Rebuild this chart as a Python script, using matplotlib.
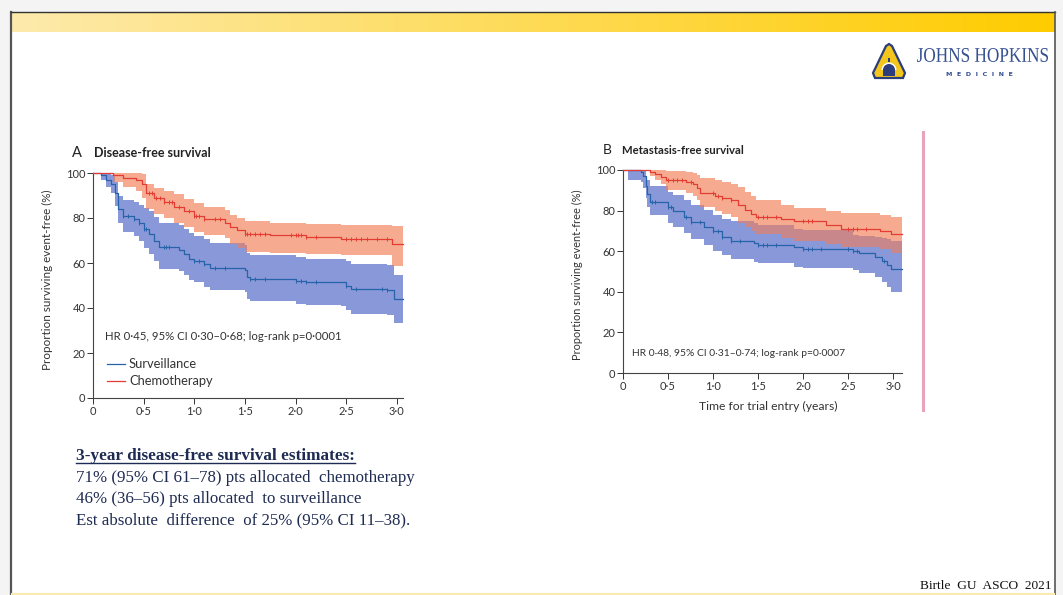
import numpy as np
import matplotlib
matplotlib.use('Agg')
import matplotlib.pyplot as plt
from matplotlib.patches import Rectangle, Polygon, PathPatch, Wedge
from matplotlib.textpath import TextPath
from matplotlib.font_manager import FontProperties
from matplotlib.transforms import Affine2D

# ---------------- data ----------------
x_ticks = [0, 0.5, 1.0, 1.5, 2.0, 2.5, 3.0]
x_tick_labels = ['0', '0·5', '1·0', '1·5', '2·0', '2·5', '3·0']
y_ticks = [0, 20, 40, 60, 80, 100]

# Panel A - Disease-free survival
a_chemo_t = [0, 0.2, 0.3, 0.42, 0.48, 0.52, 0.6, 0.7, 0.8, 0.9, 1.0, 1.1, 1.3, 1.35, 1.42, 1.5, 1.75, 2.1, 2.45, 2.95, 3.06]
a_chemo_s = [100, 99, 98, 97, 95, 91, 89, 87, 85, 83, 81, 79.5, 78, 76, 74.5, 73, 72.5, 71.5, 70.5, 68.5, 68.5]
a_chemo_up = [100, 100, 100, 100, 99.5, 95, 93.5, 92, 90.5, 88.5, 86.5, 85, 83.5, 81.5, 80, 78.5, 78, 77.5, 77, 76.5, 76.5]
a_chemo_lo = [100, 96, 94, 92, 89, 84, 82, 80, 78, 76, 74, 72.5, 71, 68.5, 66.5, 65, 64.5, 64, 63.5, 58.5, 58.5]
a_chemo_cens = [0.55, 0.58, 0.62, 0.66, 0.7, 0.75, 0.78, 0.85, 0.95, 1.0, 1.02, 1.05, 1.1, 1.2, 1.25,
                1.5, 1.52, 1.55, 1.6, 1.65, 1.7, 1.95, 2.0, 2.02, 2.05, 2.1, 2.2,
                2.5, 2.55, 2.6, 2.65, 2.7, 2.8, 2.9]

a_surv_t = [0, 0.08, 0.13, 0.18, 0.22, 0.25, 0.3, 0.4, 0.45, 0.5, 0.55, 0.6, 0.65, 0.85, 0.9, 0.95, 1.0, 1.1, 1.15,
            1.5, 1.52, 1.55, 2.0, 2.1, 2.45, 2.5, 2.55, 2.9, 2.97, 3.06]
a_surv_s = [100, 99, 97, 95, 91, 84, 81, 79.5, 78, 75, 73, 70, 67, 66, 64, 62, 61, 59.5, 58,
            57, 54, 53, 52, 51.5, 51.5, 50, 48.5, 48, 44, 44]
a_surv_up = [100, 100, 99.5, 99, 96, 90, 88, 87, 86, 84.5, 83, 80.5, 78, 77, 75, 73.5, 72, 70.5, 69,
             68, 64.5, 63.5, 62.5, 62, 62, 61, 59.5, 59, 54.5, 54.5]
a_surv_lo = [100, 97, 94, 91, 85.5, 78, 74, 72, 70, 66.5, 64, 61, 57.5, 56.5, 54.5, 52.5, 51.5, 49.5, 48,
             47, 44, 43, 42, 41.5, 41, 39, 37.5, 37, 33.5, 33.5]
a_surv_cens = [0.3, 0.35, 0.4, 0.45, 0.5, 0.52, 0.7, 0.72, 0.75, 1.0, 1.05, 1.1, 1.2, 1.3,
               1.55, 1.6, 1.7, 2.0, 2.05, 2.1, 2.2, 2.5, 2.6, 2.85, 2.9]

# Panel B - Metastasis-free survival
b_chemo_t = [0, 0.3, 0.35, 0.42, 0.48, 0.7, 0.78, 0.82, 0.86, 1.02, 1.1, 1.2, 1.28, 1.35, 1.42, 1.48,
             1.75, 1.9, 2.25, 2.42, 2.85, 2.98, 3.1]
b_chemo_s = [100, 99, 98, 96.5, 95, 94, 93, 91, 88.5, 87, 86, 85, 83, 80.5, 78.5, 77, 76, 75, 73, 71, 70, 68.5, 68.5]
b_chemo_up = [100, 100, 100, 100, 99.5, 99, 98.5, 97.5, 96, 95, 94, 93, 91.5, 89, 87, 85, 83, 81.5, 80, 79, 78, 77, 77]
b_chemo_lo = [100, 97, 95, 93, 90, 88.5, 87, 85, 82, 80, 78.5, 77, 74, 72, 70, 68.5, 66.5, 65, 63.5, 62, 61, 59, 59]
b_chemo_cens = [0.5, 0.55, 0.6, 0.65, 0.75, 1.0, 1.05, 1.1, 1.2, 1.5, 1.55, 1.6, 1.7,
                2.0, 2.05, 2.1, 2.5, 2.55, 2.6, 2.7]

b_surv_t = [0, 0.05, 0.2, 0.22, 0.25, 0.27, 0.3, 0.5, 0.55, 0.68, 0.75, 0.9, 1.0, 1.1, 1.2, 1.45, 1.5,
            1.9, 2.0, 2.55, 2.62, 2.8, 2.88, 2.93, 2.98, 3.1]
b_surv_s = [100, 100, 99, 97, 92, 88, 84, 82, 80, 77, 74.5, 72, 70, 67, 65, 64, 63, 62, 61, 60, 59, 57, 55, 53, 51, 51]
b_surv_up = [100, 100, 100, 99.5, 97, 95, 92, 89, 87.5, 85, 83, 80.5, 78, 76, 75, 74, 73,
             71, 70.5, 68, 67.5, 67, 66.5, 66, 65, 65]
b_surv_lo = [100, 95, 94, 91, 86, 82, 78, 74, 72, 69, 66, 63, 60, 58, 56, 54.5, 54, 52, 51.5, 50.5,
             49.5, 47.5, 45, 42.5, 40, 40]
b_surv_cens = [0.32, 0.36, 0.5, 0.53, 0.7, 0.75, 0.85, 1.0, 1.05, 1.1, 1.2, 1.3, 1.5, 1.55, 1.6, 1.7,
               2.0, 2.05, 2.1, 2.2, 2.5, 2.55, 2.6, 2.9]

# ---------------- style ----------------
RED_LINE, RED_BAND = '#e23c33', '#f6ab90'
BLUE_LINE, BLUE_BAND = '#2763aa', '#8898d8'
OVERLAP = '#c8878a'
AX_FONT = 'Lato'
SERIF = 'Liberation Serif'
NAVY = '#1e2b52'
TXT = '#333333'

W, H = 1063, 595
fig = plt.figure(figsize=(W / 100, H / 100), dpi=100, facecolor='#f4f4f4')

bg = fig.add_axes([0, 0, 1, 1], zorder=0)
bg.add_patch(Rectangle((11, 12), 1044, 590, facecolor='white', edgecolor='none', zorder=0))
grad = np.linspace(0, 1, 256)
c0 = np.array([253, 234, 172]) / 255
c1 = np.array([255, 204, 0]) / 255
img = c0[None, :] * (1 - grad[:, None]) + c1[None, :] * grad[:, None]
bg.imshow(img[None, :, :], extent=(11, 1055, 32, 12), aspect='auto', interpolation='bilinear', zorder=2)
bg.plot([11, 11], [12, 595], color='#555555', lw=1.6, zorder=3)
bg.plot([11, 1055], [12, 12], color='#333333', lw=1.0, zorder=3)
bg.plot([1055, 1055], [12, 595], color='#555555', lw=1.2, zorder=3)
bg.plot([12, 1054], [593.5, 593.5], color='#fbe9b0', lw=1.5, zorder=3)
bg.plot([922.5, 922.5], [132, 410], color='#e9a3bd', lw=2.2, zorder=3)
bg.set_xlim(0, W)
bg.set_ylim(H, 0)
bg.axis('off')


def step_eval(t, v, grid):
    idx = np.searchsorted(np.asarray(t), grid, side='right') - 1
    return np.asarray(v, dtype=float)[np.clip(idx, 0, None)]


def km_panel(ax, red, blue, xmax):
    for (t, s, lo, up, cens, lc, bc) in (red, blue):
        ax.fill_between(t, lo, up, step='post', color=bc, lw=0, zorder=1)
    grid = np.union1d(red[0], blue[0])
    lo = np.maximum(step_eval(red[0], red[2], grid), step_eval(blue[0], blue[2], grid))
    hi = np.minimum(step_eval(red[0], red[3], grid), step_eval(blue[0], blue[3], grid))
    ax.fill_between(grid, lo, np.maximum(hi, lo), step='post', color=OVERLAP, lw=0, zorder=2)
    for (t, s, lo_, up_, cens, lc, bc) in (blue, red):
        ax.step(t, s, where='post', color=lc, lw=0.9, zorder=3, clip_on=False)
        ax.plot(cens, step_eval(t, s, cens), ls='none', marker='|', ms=3.5, mew=0.7,
                color=lc, zorder=4, clip_on=False)
    ax.set_xlim(0, xmax)
    ax.set_ylim(0, 100)
    ax.set_xticks(x_ticks)
    ax.set_xticklabels(x_tick_labels, fontfamily=AX_FONT)
    ax.set_yticks(y_ticks)
    ax.set_yticklabels([str(v) for v in y_ticks], fontfamily=AX_FONT)
    for sp in ('top', 'right'):
        ax.spines[sp].set_visible(False)
    for sp in ('left', 'bottom'):
        ax.spines[sp].set_color('#444444')
        ax.spines[sp].set_linewidth(0.8)
    ax.tick_params(length=4, width=0.7, colors=TXT, labelsize=8, pad=1.5)
    ax.set_facecolor('none')


def px_axes(left, right, top, bottom):
    return fig.add_axes([left / W, 1 - bottom / H, (right - left) / W, (bottom - top) / H], zorder=2)


axA = px_axes(93, 403, 173, 398)
km_panel(axA,
         (a_chemo_t, a_chemo_s, a_chemo_lo, a_chemo_up, a_chemo_cens, RED_LINE, RED_BAND),
         (a_surv_t, a_surv_s, a_surv_lo, a_surv_up, a_surv_cens, BLUE_LINE, BLUE_BAND), 3.06)

axB = px_axes(623, 902, 170, 373)
km_panel(axB,
         (b_chemo_t, b_chemo_s, b_chemo_lo, b_chemo_up, b_chemo_cens, RED_LINE, RED_BAND),
         (b_surv_t, b_surv_s, b_surv_lo, b_surv_up, b_surv_cens, BLUE_LINE, BLUE_BAND), 3.1)

top = fig.add_axes([0, 0, 1, 1], zorder=5)
top.set_xlim(0, W)
top.set_ylim(H, 0)
top.axis('off')
top.patch.set_alpha(0)

# panel texts
top.text(72, 153, 'A', fontsize=10.5, fontfamily=AX_FONT, va='center', color='#222222')
top.text(94, 153, 'Disease-free survival', fontsize=9, fontweight='bold', fontfamily=AX_FONT,
         va='center', color='#222222')
top.text(47, 280, 'Proportion surviving event-free (%)', rotation=90, fontsize=8.4, fontfamily=AX_FONT,
         ha='center', va='center', color=TXT)
top.text(105, 337, 'HR 0·45, 95% CI 0·30–0·68; log-rank p=0·0001', fontsize=8.2, fontfamily=AX_FONT,
         va='center', color=TXT)
top.plot([107, 125], [364, 364], color=BLUE_LINE, lw=0.9)
top.plot([107, 125], [381, 381], color=RED_LINE, lw=0.9)
top.text(129, 364, 'Surveillance', fontsize=9.3, fontfamily=AX_FONT, va='center', color=TXT)
top.text(129, 381, 'Chemotherapy', fontsize=9.3, fontfamily=AX_FONT, va='center', color=TXT)

top.text(603, 150, 'B', fontsize=10, fontfamily=AX_FONT, va='center', color='#222222')
top.text(622, 150, 'Metastasis-free survival', fontsize=8.2, fontweight='bold', fontfamily=AX_FONT,
         va='center', color='#222222')
top.text(577, 275, 'Proportion surviving event-free (%)', rotation=90, fontsize=7.9, fontfamily=AX_FONT,
         ha='center', va='center', color=TXT)
top.text(632, 353, 'HR 0·48, 95% CI 0·31–0·74; log-rank p=0·0007', fontsize=7.4, fontfamily=AX_FONT,
         va='center', color=TXT)
top.text(768, 406, 'Time for trial entry (years)', fontsize=8.7, fontfamily=AX_FONT,
         ha='center', va='center', color=TXT)

# slide text
head = top.text(76, 460, '3-year disease-free survival estimates:', fontsize=12.4, fontweight='bold',
                fontfamily=SERIF, va='baseline', color=NAVY)
lines = ['71% (95% CI 61–78) pts allocated  chemotherapy',
         '46% (36–56) pts allocated  to surveillance',
         'Est absolute  difference  of 25% (95% CI 11–38).']
for i, s in enumerate(lines):
    top.text(76, 482 + i * 21, s, fontsize=12.2, fontfamily=SERIF, va='baseline', color=NAVY)
top.text(920, 589, 'Birtle  GU  ASCO  2021', fontsize=9.6, fontfamily=SERIF, va='baseline', color='#111111')

fig.canvas.draw()
bb = head.get_window_extent()
inv = top.transData.inverted()
(x0, _), (x1, _) = inv.transform([(bb.x0, bb.y0), (bb.x1, bb.y0)])
top.plot([x0, x1], [462.5, 462.5], color=NAVY, lw=1.0)

# logo
top.add_patch(Polygon([(889, 44), (892, 46), (905, 73), (903, 78), (875, 78), (873, 73), (886, 46)],
                      closed=True, facecolor='#f2c61c', edgecolor='#2b3d7a', lw=1.6))
top.add_patch(Wedge((889, 70), 7.5, 180, 360, facecolor='white', edgecolor='none'))
top.add_patch(Wedge((889, 70), 6, 180, 360, facecolor='#2b3d7a', edgecolor='none'))
top.add_patch(Rectangle((883, 70), 12, 6, facecolor='#2b3d7a', edgecolor='none'))
top.add_patch(Rectangle((887.8, 58), 2.4, 4, facecolor='#2b3d7a', edgecolor='none'))

tp = TextPath((0, 0), 'JOHNS HOPKINS', size=20, prop=FontProperties(family=SERIF))
ext = tp.get_extents()
sx = 131 / ext.width
sy = 14 / ext.height
tr = Affine2D().translate(-ext.x0, -ext.y0).scale(sx, -sy).translate(917, 62)
top.add_patch(PathPatch(tr.transform_path(tp), facecolor='#34508f', edgecolor='none'))
top.text(979, 74, 'M  E  D  I  C  I  N  E', fontsize=4.6, fontweight='bold', fontfamily='DejaVu Sans',
         ha='center', va='center', color='#34508f')

fig.savefig('out.png', dpi=100, facecolor=fig.get_facecolor())
